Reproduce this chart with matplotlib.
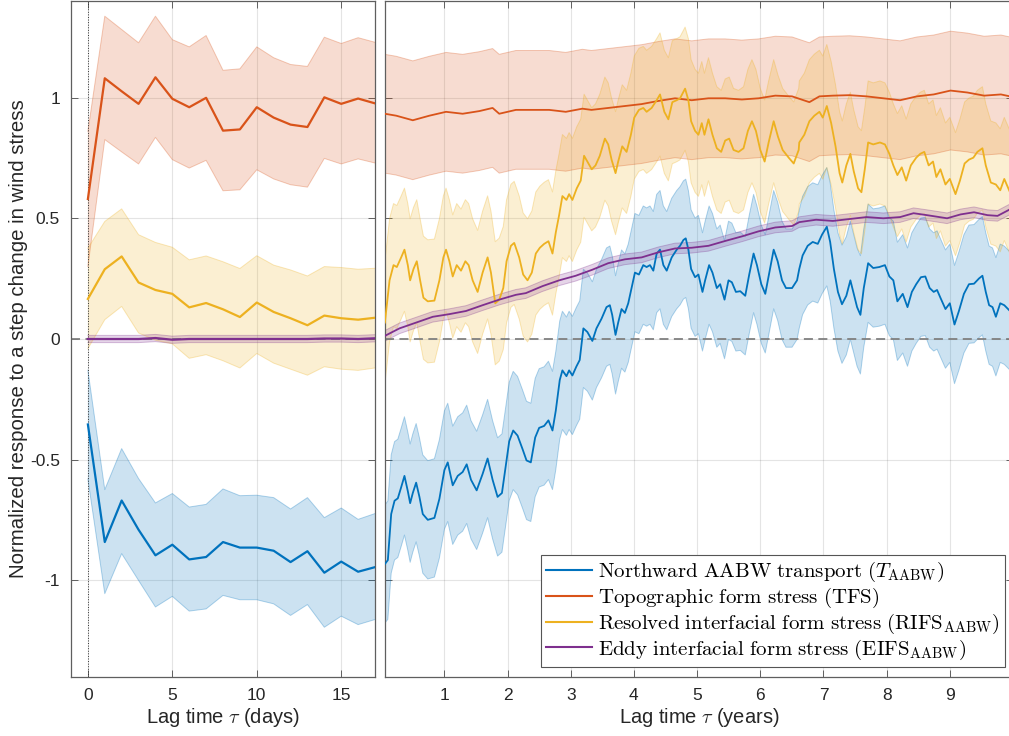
import numpy as np
import matplotlib
matplotlib.use("Agg")
import matplotlib.pyplot as plt
from matplotlib.lines import Line2D

plt.rcParams['font.family'] = ['Liberation Sans', 'DejaVu Sans']
plt.rcParams['mathtext.fontset'] = 'cm'
plt.rcParams['axes.unicode_minus'] = False

# ---------------- data: short lags (days) ----------------
days = list(range(18))
t_day = [-0.354, -0.841, -0.669, -0.79, -0.896, -0.852, -0.913, -0.903, -0.841, -0.864,
         -0.864, -0.877, -0.924, -0.879, -0.968, -0.922, -0.964, -0.945]
t_day_hi = [-0.129, -0.624, -0.454, -0.578, -0.679, -0.64, -0.696, -0.685, -0.621, -0.649,
            -0.647, -0.657, -0.704, -0.657, -0.74, -0.70, -0.747, -0.723]
t_day_lo = [-0.58, -1.055, -0.889, -1.0, -1.11, -1.066, -1.127, -1.118, -1.062, -1.08,
            -1.08, -1.097, -1.145, -1.10, -1.194, -1.148, -1.183, -1.162]
tfs_day = [0.58, 1.08, 1.026, 0.974, 1.084, 0.995, 0.96, 0.999, 0.863, 0.868,
           0.96, 0.917, 0.888, 0.878, 1.001, 0.974, 0.996, 0.976]
tfs_day_hi = [0.86, 1.337, 1.282, 1.227, 1.337, 1.24, 1.21, 1.257, 1.113, 1.119,
              1.21, 1.165, 1.137, 1.129, 1.25, 1.224, 1.248, 1.229]
tfs_day_lo = [0.30, 0.826, 0.775, 0.725, 0.835, 0.743, 0.708, 0.74, 0.614, 0.618,
              0.701, 0.663, 0.639, 0.629, 0.748, 0.725, 0.746, 0.729]
rifs_day = [0.166, 0.289, 0.342, 0.234, 0.203, 0.187, 0.131, 0.149, 0.123, 0.091,
            0.151, 0.112, 0.086, 0.057, 0.097, 0.086, 0.080, 0.088]
rifs_day_hi = [0.376, 0.487, 0.539, 0.432, 0.40, 0.38, 0.328, 0.344, 0.32, 0.292,
               0.345, 0.306, 0.286, 0.261, 0.30, 0.296, 0.289, 0.293]
rifs_day_lo = [-0.04, 0.08, 0.135, 0.025, -0.005, -0.02, -0.08, -0.065, -0.09, -0.12,
               -0.06, -0.10, -0.125, -0.15, -0.115, -0.125, -0.13, -0.12]
eifs_day = [0, 0, 0, 0, 0.004, -0.003, 0, 0, 0, 0, 0, 0, 0, 0, 0.002, 0.002, 0, 0.003]
eifs_day_err = 0.015

# ---------------- data: long lags (years) ----------------
t_yr = [0.058, 0.105, 0.158, 0.211, 0.263, 0.316, 0.368, 0.421, 0.458, 0.5, 0.553, 0.605,
        0.658, 0.737, 0.842, 0.921, 1.0, 1.053, 1.132, 1.211, 1.289, 1.353, 1.421, 1.511,
        1.605, 1.684, 1.763, 1.842, 1.911, 1.984, 2.026, 2.089, 2.158, 2.237, 2.3, 2.368,
        2.437, 2.5, 2.579, 2.647, 2.711, 2.763, 2.826, 2.868, 2.932, 2.974, 3.026, 3.089,
        3.142, 3.2, 3.263, 3.342,
        3.407, 3.487, 3.566, 3.619, 3.656, 3.709, 3.751, 3.804, 3.857, 3.91, 3.963, 4.016,
        4.079, 4.148, 4.201, 4.254, 4.307, 4.36, 4.413, 4.466, 4.519, 4.598, 4.677, 4.73,
        4.783, 4.82, 4.862, 4.905, 4.968, 5.021, 5.085, 5.127, 5.19, 5.243, 5.312, 5.365,
        5.434, 5.497, 5.55, 5.614, 5.683, 5.762, 5.825, 5.894, 5.947, 6.016, 6.079, 6.132,
        6.212, 6.275, 6.344, 6.407, 6.503, 6.582,
        6.617, 6.67, 6.75, 6.83, 6.91, 6.979, 7.053, 7.106, 7.165, 7.229, 7.293, 7.362,
        7.426, 7.479, 7.532, 7.585, 7.638, 7.707, 7.787, 7.883, 7.973, 8.043, 8.106, 8.17,
        8.255, 8.33, 8.399, 8.468, 8.543, 8.612, 8.681, 8.745, 8.798, 8.851, 8.931, 9.0,
        9.074, 9.144, 9.223, 9.303, 9.383, 9.463, 9.516, 9.569, 9.622, 9.676, 9.729, 9.798,
        9.862, 9.952]
t_val = [-0.932, -0.916, -0.725, -0.67, -0.66, -0.614, -0.567, -0.63, -0.68, -0.638, -0.595,
         -0.654, -0.725, -0.749, -0.741, -0.662, -0.543, -0.511, -0.606, -0.567, -0.551,
         -0.519, -0.583, -0.627, -0.559, -0.495, -0.583, -0.654, -0.638, -0.503, -0.424,
         -0.379, -0.4, -0.456, -0.503, -0.511, -0.408, -0.368, -0.36, -0.337, -0.379,
         -0.297, -0.17, -0.13, -0.154, -0.13, -0.151, -0.114, -0.087, 0.044, 0.029, -0.008,
         0.044, 0.084, 0.132, 0.14, 0.1, 0.017, 0.068, 0.124, 0.108, 0.148, 0.211, 0.275,
         0.267, 0.306, 0.298, 0.306, 0.283, 0.354, 0.37, 0.306, 0.283, 0.338, 0.37, 0.386,
         0.41, 0.417, 0.37, 0.29, 0.256, 0.267, 0.195, 0.243, 0.306, 0.275, 0.211, 0.227,
         0.163, 0.243, 0.235, 0.195, 0.198, 0.179, 0.267, 0.354, 0.306, 0.227, 0.187, 0.259,
         0.37, 0.322, 0.243, 0.211, 0.211, 0.243,
         0.29, 0.346, 0.386, 0.402, 0.394, 0.433, 0.465, 0.402, 0.29, 0.195, 0.144, 0.179,
         0.243, 0.187, 0.132, 0.1, 0.211, 0.314, 0.294, 0.298, 0.306, 0.259, 0.243, 0.156,
         0.187, 0.132, 0.195, 0.227, 0.256, 0.259, 0.211, 0.195, 0.203, 0.171, 0.124, 0.148,
         0.06, 0.116, 0.187, 0.227, 0.229, 0.251, 0.262, 0.195, 0.14, 0.132, 0.092, 0.148,
         0.14, 0.116]
t_err = 0.245

rifs_yr = [0.058, 0.132, 0.195, 0.247, 0.316, 0.368, 0.421, 0.458, 0.511, 0.563, 0.616, 0.668,
           0.737, 0.842, 0.921, 0.984, 1.026, 1.079, 1.132, 1.195, 1.263, 1.332, 1.384, 1.447,
           1.526, 1.605, 1.684, 1.737, 1.805, 1.868, 1.932, 1.984, 2.053, 2.105, 2.184, 2.247,
           2.316, 2.384, 2.447, 2.511, 2.579, 2.647, 2.711, 2.763, 2.816, 2.868, 2.932, 2.974,
           3.026, 3.095, 3.158, 3.211, 3.263, 3.332,
           3.392, 3.46, 3.54, 3.593, 3.646, 3.709, 3.751, 3.815, 3.884, 3.952, 4.005, 4.079,
           4.148, 4.201, 4.28, 4.36, 4.413, 4.481, 4.545, 4.608, 4.677, 4.73, 4.81, 4.862,
           4.905, 4.968, 5.021, 5.074, 5.116, 5.18, 5.243, 5.312, 5.381, 5.444, 5.508, 5.577,
           5.656, 5.735, 5.804, 5.868, 5.931, 6.0, 6.069, 6.132, 6.212, 6.28, 6.354, 6.45,
           6.529, 6.608,
           6.617, 6.697, 6.777, 6.856, 6.936, 6.989, 7.053, 7.122, 7.191, 7.255, 7.298, 7.362,
           7.426, 7.479, 7.548, 7.601, 7.654, 7.707, 7.787, 7.894, 7.973, 8.043, 8.106, 8.17,
           8.239, 8.309, 8.383, 8.468, 8.532, 8.596, 8.665, 8.734, 8.787, 8.851, 8.931, 9.0,
           9.09, 9.16, 9.234, 9.303, 9.372, 9.436, 9.516, 9.569, 9.649, 9.729, 9.798, 9.862,
           9.952]
rifs_val = [0.068, 0.243, 0.306, 0.298, 0.338, 0.37, 0.306, 0.243, 0.29, 0.322, 0.243, 0.171,
            0.156, 0.159, 0.243, 0.338, 0.37, 0.322, 0.259, 0.306, 0.283, 0.322, 0.306, 0.243,
            0.195, 0.275, 0.338, 0.275, 0.148, 0.163, 0.211, 0.322, 0.386, 0.398, 0.338, 0.267,
            0.243, 0.275, 0.354, 0.378, 0.394, 0.405, 0.354, 0.441, 0.513, 0.592, 0.576, 0.6,
            0.576, 0.624, 0.656, 0.759, 0.735, 0.703,
            0.719, 0.759, 0.83, 0.806, 0.743, 0.687, 0.735, 0.798, 0.775, 0.846, 0.917, 0.949,
            0.957, 0.941, 0.957, 0.989, 1.013, 0.941, 0.91, 0.981, 0.989, 0.997, 1.037, 0.989,
            0.902, 0.862, 0.846, 0.894, 0.846, 0.91, 0.846, 0.79, 0.775, 0.822, 0.83, 0.783,
            0.775, 0.79, 0.862, 0.902, 0.862, 0.783, 0.735, 0.814, 0.902, 0.838, 0.783, 0.751,
            0.727, 0.783,
            0.814, 0.846, 0.902, 0.925, 0.941, 0.917, 0.965, 0.894, 0.798, 0.687, 0.648, 0.719,
            0.767, 0.695, 0.624, 0.608, 0.703, 0.814, 0.806, 0.814, 0.806, 0.767, 0.719, 0.679,
            0.711, 0.656, 0.719, 0.751, 0.767, 0.775, 0.719, 0.735, 0.671, 0.703, 0.64, 0.663,
            0.6, 0.656, 0.727, 0.743, 0.751, 0.775, 0.79, 0.719, 0.648, 0.64, 0.616, 0.663,
            0.608]
rifs_err = 0.255

tfs_yr = [0.058, 0.237, 0.5, 0.763, 1.026, 1.289, 1.553, 1.763, 1.868, 2.132, 2.395, 2.658,
          2.921, 3.184, 3.328, 3.593, 3.857, 4.122, 4.386, 4.651, 4.915, 5.18, 5.444, 5.709,
          5.974, 6.238, 6.503, 6.777, 6.936, 7.149, 7.415, 7.681, 7.947, 8.213, 8.479, 8.745,
          9.011, 9.277, 9.543, 9.809, 9.952]
tfs_val = [0.933, 0.925, 0.906, 0.925, 0.941, 0.933, 0.944, 0.957, 0.933, 0.949, 0.949, 0.949,
           0.941, 0.954, 0.949, 0.957, 0.965, 0.973, 0.986, 0.997, 0.989, 0.997, 0.997, 0.992,
           0.997, 1.008, 1.005, 0.981, 1.005, 1.008, 1.01, 1.005, 0.997, 0.989, 1.005, 1.013,
           1.029, 1.021, 1.008, 1.013, 1.005]
tfs_err = 0.246

eifs_yr = [0.058, 0.289, 0.553, 0.816, 1.079, 1.342, 1.605, 1.868, 2.132, 2.289, 2.553, 2.816,
           3.079, 3.342, 3.593, 3.857, 4.122, 4.386, 4.651, 4.915, 5.18, 5.444, 5.709, 5.974,
           6.238, 6.503, 6.617, 6.883, 7.149, 7.415, 7.681, 7.947, 8.213, 8.426, 8.638, 8.957,
           9.17, 9.383, 9.596, 9.755, 9.952]
eifs_val = [0.013, 0.044, 0.068, 0.092, 0.103, 0.116, 0.14, 0.163, 0.183, 0.19, 0.219, 0.243,
            0.262, 0.287, 0.314, 0.33, 0.338, 0.359, 0.375, 0.378, 0.386, 0.406, 0.425, 0.446,
            0.462, 0.468, 0.484, 0.494, 0.489, 0.497, 0.505, 0.5, 0.505, 0.521, 0.513, 0.5,
            0.516, 0.525, 0.513, 0.51, 0.537]
eifs_err = 0.022

labels = [r'$\mathrm{Northward\ AABW\ transport\ (}T_{\mathrm{AABW}}\mathrm{)}$',
          r'$\mathrm{Topographic\ form\ stress\ (TFS)}$',
          r'$\mathrm{Resolved\ interfacial\ form\ stress\ (RIFS}_{\mathrm{AABW}}\mathrm{)}$',
          r'$\mathrm{Eddy\ interfacial\ form\ stress\ (EIFS}_{\mathrm{AABW}}\mathrm{)}$']
colors = ['#0072BD', '#D95319', '#EDB120', '#7E2F8E']

# ---------------- figure ----------------
W, H = 1009, 736
fig = plt.figure(figsize=(W / 100, H / 100), dpi=100)
ax1 = fig.add_axes([71 / W, 59 / H, 304 / W, 676 / H])
ax2 = fig.add_axes([385 / W, 59 / H, 628 / W, 676 / H])

spine_c = '#5f5f5f'
text_c = '#262626'


def band(ax, x, lo, hi, c, lw_edge=0.7):
    ax.fill_between(x, lo, hi, facecolor=c, alpha=0.2, linewidth=0, zorder=1)
    ax.plot(x, lo, color=c, alpha=0.3, lw=lw_edge, zorder=1.1)
    ax.plot(x, hi, color=c, alpha=0.3, lw=lw_edge, zorder=1.1)


# left panel
d = np.array(days)
band(ax1, d, t_day_lo, t_day_hi, colors[0])
band(ax1, d, tfs_day_lo, tfs_day_hi, colors[1])
band(ax1, d, rifs_day_lo, rifs_day_hi, colors[2])
band(ax1, d, np.array(eifs_day) - eifs_day_err, np.array(eifs_day) + eifs_day_err, colors[3])
ax1.axhline(0, color='#808080', ls='--', lw=1.3, dashes=(5, 3), zorder=2)
ax1.axvline(0, color='#333333', ls=':', lw=0.7, zorder=2)
for series, c in zip([t_day, tfs_day, rifs_day, eifs_day], colors):
    ax1.plot(d, series, color=c, lw=1.6, zorder=3)

# right panel
ty, tv = np.array(t_yr), np.array(t_val)
ry, rv = np.array(rifs_yr), np.array(rifs_val)
fy, fv = np.array(tfs_yr), np.array(tfs_val)
ey, ev = np.array(eifs_yr), np.array(eifs_val)
band(ax2, ty, tv - t_err, tv + t_err, colors[0])
band(ax2, fy, fv - tfs_err, fv + tfs_err, colors[1])
band(ax2, ry, rv - rifs_err, rv + rifs_err, colors[2])
band(ax2, ey, ev - eifs_err, ev + eifs_err, colors[3])
ax2.axhline(0, color='#808080', ls='--', lw=1.3, dashes=(5, 3), zorder=2)
for (x, y), c in zip([(ty, tv), (fy, fv), (ry, rv), (ey, ev)], colors):
    ax2.plot(x, y, color=c, lw=1.3, zorder=3)

for ax in (ax1, ax2):
    ax.set_ylim(-1.4, 1.4)
    ax.set_yticks([-1, -0.5, 0, 0.5, 1])
    ax.grid(True, color='#262626', alpha=0.12, lw=0.8)
    ax.set_axisbelow(True)
    ax.tick_params(direction='in', top=True, right=True, length=5, width=0.7,
                   color=spine_c, labelcolor=text_c, labelsize=12.5, pad=8)
    for s in ax.spines.values():
        s.set_color(spine_c)
        s.set_linewidth(0.9)

ax1.set_xlim(-1, 17)
ax1.set_xticks([0, 5, 10, 15])
ax1.set_yticklabels(['-1', '-0.5', '0', '0.5', '1'])
ax1.set_xlabel(r'Lag time $\tau$ (days)', fontsize=14.5, color=text_c, labelpad=2)
ax1.set_ylabel('Normalized response to a step change in wind stress', fontsize=14.7,
               color=text_c, labelpad=1.5)

ax2.set_xlim(0.06, 10)
ax2.set_xticks(range(1, 10))
ax2.set_yticklabels([])
ax2.set_xlabel(r'Lag time $\tau$ (years)', fontsize=14.5, color=text_c, labelpad=2)

handles = [Line2D([0], [0], color=c, lw=1.5) for c in colors]
leg = ax2.legend(handles, labels, loc='lower right', bbox_to_anchor=(1005 / W, 69 / H),
                 bbox_transform=fig.transFigure, borderaxespad=0, fontsize=15,
                 frameon=True, fancybox=False, edgecolor='#555555', framealpha=1,
                 handlelength=2.2, handletextpad=0.3, labelspacing=0.08, borderpad=0.25)
leg.get_frame().set_linewidth(0.8)

fig.savefig('out.png', dpi=100)
